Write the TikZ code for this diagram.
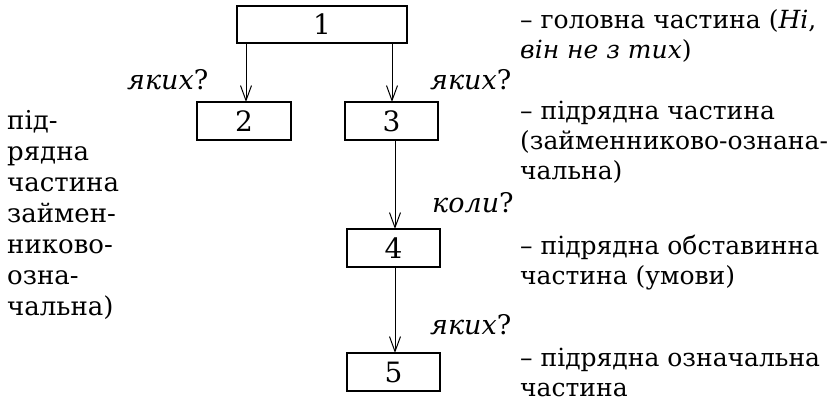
\documentclass[tikz,border=0pt]{standalone}
\usepackage{fontspec}
\setmainfont{DejaVu Serif}
\usetikzlibrary{arrows.meta}
\tikzset{
  box/.style={draw, line width=1.2pt, inner sep=0pt},
  conn/.style={line width=1pt, -{Straight Barb[length=15pt,width=11pt,line width=1pt]}},
  txt/.style={anchor=base west, inner sep=0pt, align=left, font=\fontsize{25}{30}\selectfont},
  q/.style={anchor=base west, inner sep=0pt, font=\fontsize{27}{30}\selectfont\itshape},
  num/.style={inner sep=0pt, font=\fontsize{28}{30}\selectfont}
}
\begin{document}
\begin{tikzpicture}[x=1pt,y=-1pt]
\useasboundingbox (0,0) rectangle (836,401);
% boxes
\draw[box] (237,6) rectangle (407,43);
\node[num] (b1) at (322,24.5) {1};
\draw[box] (197,102) rectangle (291,140);
\node[num] (b2) at (244,121) {2};
\draw[box] (345,102) rectangle (438,140);
\node[num] (b3) at (391.5,121) {3};
\draw[box] (347,229) rectangle (440,267);
\node[num] (b4) at (393.5,248) {4};
\draw[box] (347,353) rectangle (440,391);
\node[num] (b5) at (393.5,372) {5};
% named anchors
\coordinate (b1l) at (246,43);
\coordinate (b2t) at (246,102);
\coordinate (b1r) at (392,43);
\coordinate (b3t) at (392,102);
\coordinate (b3b) at (395,140);
\coordinate (b4t) at (395,229);
\coordinate (b4b) at (395,267);
\coordinate (b5t) at (395,353);
\draw[conn] (b1l) -- (b2t);
\draw[conn] (b1r) -- (b3t);
\draw[conn] (b3b) -- (b4t);
\draw[conn] (b4b) -- (b5t);
% question labels
\node[q] (q1) at (127,90) {яких\upshape ?};
\node[q] (q2) at (430,90) {яких\upshape ?};
\node[q] (q3) at (432,212) {коли\upshape ?};
\node[q] (q4) at (430,334) {яких\upshape ?};
% right column (anchored at last line's baseline)
\node[txt] (t1) at (520,59) {– головна частина (\textit{Ні},\\\textit{він не з тих})};
\node[txt] (t2) at (520,180) {– підрядна частина\\(займенниково-ознана-\\чальна)};
\node[txt] (t3) at (520,284) {– підрядна обставинна\\частина (умови)};
\node[txt] (t4) at (520,396) {– підрядна означальна\\частина};
% left column
\node[txt, font=\fontsize{26}{31}\selectfont] (l1) at (7,315) {під-\\рядна\\частина\\займен-\\никово-\\озна-\\чальна)};
\end{tikzpicture}
\end{document}
